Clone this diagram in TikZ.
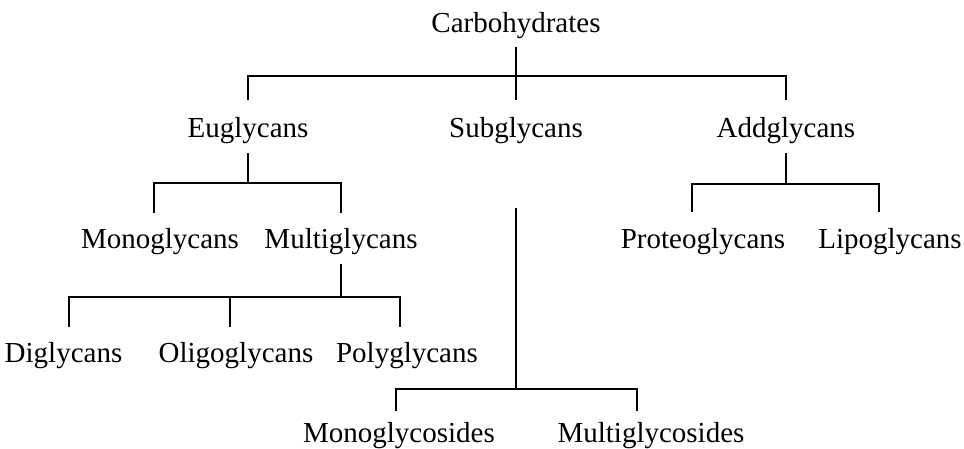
\documentclass[tikz,border=0pt]{standalone}
\usepackage{fontspec}
\setmainfont{Liberation Serif}
\newcommand\lblfont{\fontsize{29}{34}\selectfont}
\begin{document}
\begin{tikzpicture}[x=1pt,y=-1pt,
  lbl/.style={anchor=base,inner sep=0pt,font=\lblfont},
  ln/.style={line width=1.5pt,line cap=butt}]
\useasboundingbox (0,0) rectangle (964,449);
% labels
\node[lbl] (carb) at (516,33) {Carbohydrates};
\node[lbl] (eu) at (248,138) {Euglycans};
\node[lbl] (sub) at (516,138) {Subglycans};
\node[lbl] (add) at (786,138) {Addglycans};
\node[lbl] (mono) at (160,248) {Monoglycans};
\node[lbl] (multi) at (341,248) {Multiglycans};
\node[lbl] (prot) at (703,248) {Proteoglycans};
\node[lbl] (lipo) at (890,248) {Lipoglycans};
\node[lbl] (di) at (63.5,362) {Diglycans};
\node[lbl] (oligo) at (236,362) {Oligoglycans};
\node[lbl] (poly) at (407,362) {Polyglycans};
\node[lbl] (mgs) at (399,442) {Monoglycosides};
\node[lbl] (mlgs) at (651,442) {Multiglycosides};
% joints
\coordinate (carbT) at (516,47);
\coordinate (carbB) at (516,76);
\coordinate (euT) at (248,100);
\coordinate (subT) at (516,100);
\coordinate (addT) at (786,100);
\coordinate (euB0) at (248,153);
\coordinate (euB) at (248,183);
\coordinate (monoT) at (154,213);
\coordinate (multiT) at (341,213);
\coordinate (addB0) at (786,153);
\coordinate (addB) at (786,184);
\coordinate (protT) at (692,212);
\coordinate (lipoT) at (879,212);
\coordinate (multiB0) at (341,264);
\coordinate (multiB) at (341,297);
\coordinate (diT) at (69,327);
\coordinate (oligoT) at (230,327);
\coordinate (polyT) at (400,327);
\coordinate (subB0) at (516,208);
\coordinate (subB) at (516,389);
\coordinate (mgsT) at (396,411);
\coordinate (mlgsT) at (637,411);
% connectors
\draw[ln] (carbT) -- (subT);
\draw[ln] (euT) |- (carbB) -| (addT);
\draw[ln] (euB0) -- (euB);
\draw[ln] (monoT) |- (euB) -| (multiT);
\draw[ln] (addB0) -- (addB);
\draw[ln] (protT) |- (addB) -| (lipoT);
\draw[ln] (multiB0) -- (multiB);
\draw[ln] (diT) |- (multiB) -| (polyT);
\draw[ln] (oligoT) -- (oligoT |- multiB);
\draw[ln] (subB0) -- (subB);
\draw[ln] (mgsT) |- (subB) -| (mlgsT);
\end{tikzpicture}
\end{document}
